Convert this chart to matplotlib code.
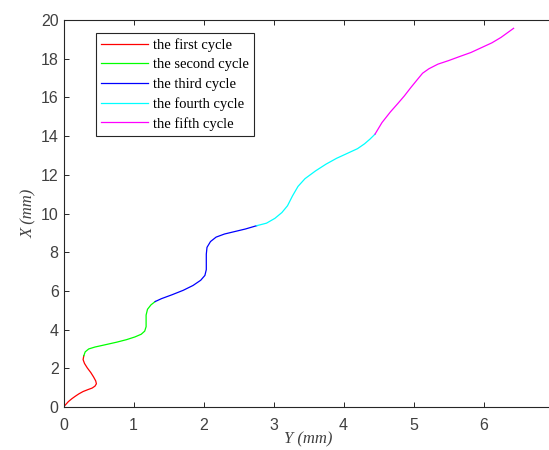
import matplotlib
matplotlib.use("Agg")
import matplotlib.pyplot as plt

# trajectory points, one list per cycle (Y, X in mm)
y1 = [0, 0.03, 0.07, 0.12, 0.17, 0.22, 0.28, 0.35, 0.41, 0.45, 0.47, 0.46, 0.43, 0.39, 0.34, 0.30, 0.28, 0.29]
x1 = [0, 0.12, 0.28, 0.43, 0.56, 0.68, 0.80, 0.90, 0.98, 1.08, 1.20, 1.35, 1.55, 1.78, 2.02, 2.25, 2.45, 2.65]

y2 = [0.29, 0.31, 0.36, 0.45, 0.60, 0.76, 0.90, 1.02, 1.11, 1.16, 1.18, 1.18, 1.18, 1.20, 1.25, 1.31]
x2 = [2.65, 2.85, 3.00, 3.10, 3.22, 3.35, 3.48, 3.62, 3.76, 3.92, 4.15, 4.45, 4.75, 5.05, 5.28, 5.45]

y3 = [1.31, 1.40, 1.55, 1.71, 1.85, 1.96, 2.02, 2.04, 2.04, 2.04, 2.05, 2.10, 2.18, 2.30, 2.45, 2.60, 2.76]
x3 = [5.45, 5.60, 5.80, 6.03, 6.28, 6.55, 6.80, 7.10, 7.50, 7.90, 8.25, 8.55, 8.78, 8.94, 9.07, 9.20, 9.37]

y4 = [2.76, 2.90, 3.02, 3.12, 3.20, 3.27, 3.35, 3.45, 3.60, 3.75, 3.90, 4.05, 4.20, 4.30, 4.38, 4.45]
x4 = [9.37, 9.50, 9.75, 10.05, 10.40, 10.90, 11.40, 11.80, 12.20, 12.55, 12.85, 13.10, 13.35, 13.60, 13.85, 14.10]

y5 = [4.45, 4.55, 4.67, 4.78, 4.87, 4.96, 5.05, 5.13, 5.22, 5.35, 5.50, 5.65, 5.82, 6.00, 6.12, 6.25, 6.43]
x5 = [14.10, 14.70, 15.25, 15.70, 16.08, 16.50, 16.90, 17.25, 17.48, 17.72, 17.90, 18.10, 18.32, 18.62, 18.82, 19.10, 19.57]

labels = ['the first cycle', 'the second cycle', 'the third cycle',
          'the fourth cycle', 'the fifth cycle']
colors = ['#ff0000', '#00ff00', '#0000ff', '#00ffff', '#ff00ff']

fig = plt.figure(figsize=(5.49, 4.5), dpi=100)
ax = fig.add_axes([63.5 / 549, 1 - 407 / 450, 490 / 549, 387 / 450])

for ys, xs, lab, c in zip([y1, y2, y3, y4, y5], [x1, x2, x3, x4, x5], labels, colors):
    ax.plot(ys, xs, color=c, linewidth=0.9, label=lab)

ax.set_xlim(0, 7)
ax.set_ylim(0, 20)
ax.set_xticks(range(0, 8))
ax.set_yticks(range(0, 21, 2))
ax.tick_params(direction='in', length=3.6, width=0.7, top=True, right=True,
               labelsize=11.5, colors='#262626')
ax.tick_params(axis='x', pad=8)
ax.tick_params(axis='y', pad=3.5)
for lbl in ax.get_xticklabels() + ax.get_yticklabels():
    lbl.set_fontfamily('Liberation Sans')
    lbl.set_color('#404040')
for s in ax.spines.values():
    s.set_linewidth(0.8)
    s.set_color('#262626')

ax.set_xlabel('Y (mm)', family='Liberation Serif', style='italic', fontsize=12,
              color='#404040', labelpad=-1)
ax.set_ylabel('X (mm)', family='Liberation Serif', style='italic', fontsize=12,
              color='#404040', labelpad=3)

leg = ax.legend(loc='upper left', bbox_to_anchor=(0.066, 0.966), borderaxespad=0,
                prop={'family': 'Liberation Serif', 'size': 10.5},
                fancybox=False, framealpha=1, edgecolor='#262626',
                handlelength=3.2, handletextpad=0.4, labelspacing=0.42,
                borderpad=0.35)
leg.get_frame().set_linewidth(0.8)

fig.savefig('out.png', dpi=100)
